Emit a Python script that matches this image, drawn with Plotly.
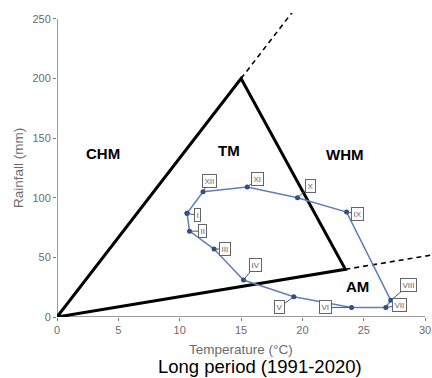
import plotly.graph_objects as go

# Monthly climate means, long period 1991-2020
months = ["I", "II", "III", "IV", "V", "VI", "VII", "VIII", "IX", "X", "XI", "XII"]
temperature = [10.6, 10.8, 12.8, 15.2, 19.3, 24.0, 26.8, 27.2, 23.6, 19.6, 15.5, 11.9]
rainfall = [87, 72, 57, 31, 17, 8, 8, 14, 88, 100, 109, 105]

# Label box offsets (pixels) from each month's point
label_dx = [10, 13, 11, 12, -14, -26, 14, 18, 11, 13, 10, 6]
label_dy = [2, 0, 0, -15, 10, 0, -2, -15, 2, -12, -8, -11]

# Climate-type triangle vertices: origin, cold-humid apex, arid corner
tri_t = [0, 15, 23.5, 0]
tri_r = [0, 200, 40, 0]

# Climate zone names and their anchor positions
zone_names = ["CHM", "TM", "WHM", "AM"]
zone_t = [3.75, 14.0, 23.5, 24.5]
zone_r = [137, 140, 136, 26]

x_ticks = [0, 5, 10, 15, 20, 25, 30]
y_ticks = [0, 50, 100, 150, 200, 250]

FONT = "Arial, 'Liberation Sans', sans-serif"
GRAY = "#6b6b6b"
X_MAX, Y_MAX = 30.56, 255
PLOT_W, PLOT_H = 375, 304.5

fig = go.Figure()

# Dashed continuations of the two triangle edges leaving the origin
ext = 1.5
for t, r in [(tri_t[1], tri_r[1]), (tri_t[2], tri_r[2])]:
    fig.add_trace(go.Scatter(
        x=[t, t * ext], y=[r, r * ext], mode="lines",
        line=dict(color="black", width=1.6, dash="5px,4px"),
        hoverinfo="skip", showlegend=False))

# Axis lines, limited to the labelled extent
fig.add_trace(go.Scatter(x=[x_ticks[0], x_ticks[-1]], y=[0, 0], mode="lines",
                         line=dict(color="#7a7a7a", width=1.5),
                         hoverinfo="skip", showlegend=False))
fig.add_trace(go.Scatter(x=[0, 0], y=[y_ticks[0], y_ticks[-1]], mode="lines",
                         line=dict(color="#7a7a7a", width=1.5),
                         hoverinfo="skip", showlegend=False))

# Triangle
fig.add_trace(go.Scatter(
    x=tri_t, y=tri_r, mode="lines",
    line=dict(color="black", width=3), hoverinfo="skip", showlegend=False))

# Annual climograph loop (closed back to January)
fig.add_trace(go.Scatter(
    x=temperature + temperature[:1], y=rainfall + rainfall[:1],
    mode="lines+markers",
    line=dict(color="#5f80b8", width=1.5),
    marker=dict(color="#2d4d8c", size=5),
    hoverinfo="skip", showlegend=False))

# Month labels in boxes with leader lines
for m, t, r, dx, dy in zip(months, temperature, rainfall, label_dx, label_dy):
    fig.add_annotation(
        x=t, y=r, text=m, showarrow=True, ax=dx, ay=dy,
        arrowhead=0, arrowwidth=1, arrowcolor="#555555", standoff=0,
        font=dict(family=FONT, size=8, color="#666666"),
        bgcolor="white", bordercolor="#666666", borderwidth=1, borderpad=1.5)

# Zone names
for name, t, r in zip(zone_names, zone_t, zone_r):
    fig.add_annotation(
        x=t, y=r, text=f"<b>{name}</b>", showarrow=False,
        font=dict(family=FONT, size=15, color="black"))

# Axis titles and caption
fig.add_annotation(
    x=15, y=-32.5 / PLOT_H, xref="x", yref="paper", text="Temperature (°C)",
    xanchor="center", yanchor="middle",
    showarrow=False, font=dict(family=FONT, size=13.5, color=GRAY))
fig.add_annotation(
    x=-38 / PLOT_W, xref="paper", y=125, yref="y", text="Rainfall (mm)",
    textangle=-90, xanchor="center", yanchor="middle",
    showarrow=False, font=dict(family=FONT, size=13.5, color=GRAY))
fig.add_annotation(
    x=(259.5 - 57) / PLOT_W, xref="paper", y=-49.5 / PLOT_H, yref="paper",
    text="Long period (1991-2020)", xanchor="center", yanchor="middle",
    showarrow=False, font=dict(family=FONT, size=18.5, color="black"))

fig.update_xaxes(
    range=[0, X_MAX], tickvals=x_ticks, showline=False, showgrid=False,
    zeroline=False, ticks="outside", ticklen=3, tickcolor="#7a7a7a",
    tickfont=dict(family=FONT, size=11, color=GRAY))
fig.update_yaxes(
    range=[0, Y_MAX], tickvals=y_ticks, showline=False, showgrid=False,
    zeroline=False, ticks="outside", ticklen=3, tickcolor="#7a7a7a",
    tickfont=dict(family=FONT, size=11, color=GRAY))

fig.update_layout(
    width=432, height=378,
    margin=dict(l=57, r=0, t=13, b=60.5),
    paper_bgcolor="white", plot_bgcolor="white",
    showlegend=False)

fig.write_html("out.html")
